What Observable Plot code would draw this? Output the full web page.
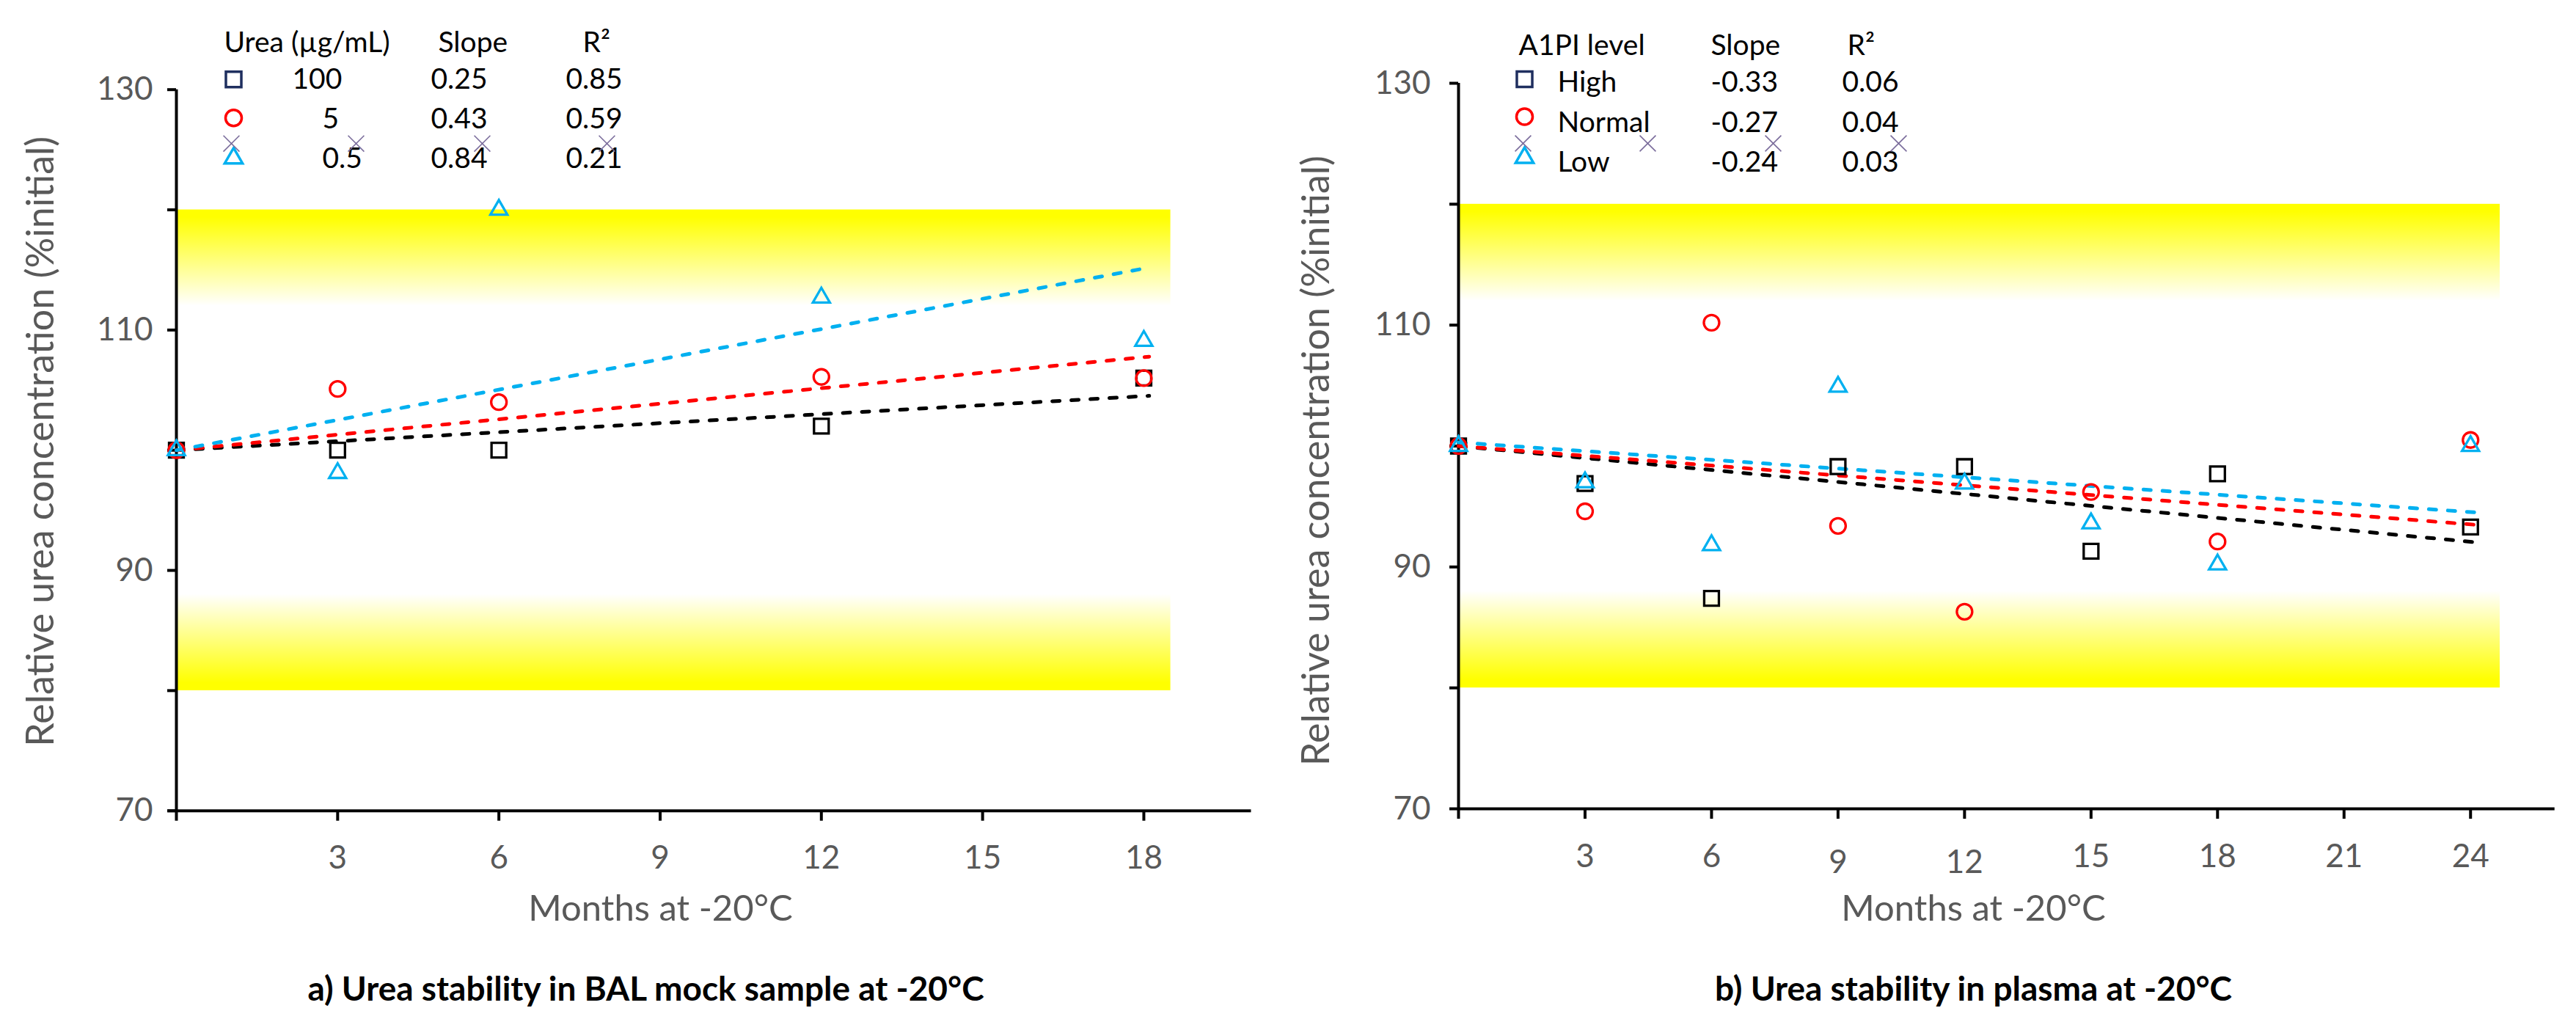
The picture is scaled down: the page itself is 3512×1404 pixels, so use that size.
<!DOCTYPE html>
<html>
<head>
<meta charset="utf-8">
<script src="https://cdn.jsdelivr.net/npm/d3@7"></script>
<script src="https://cdn.jsdelivr.net/npm/@observablehq/plot@0.6"></script>
<style>
  body { margin: 0; background: #fff; }
  #wrap { position: relative; width: 3512px; height: 1404px; }
  #chart-a, #chart-b { position: absolute; top: 0; }
  #chart-a { left: 0; }
  #chart-b { left: 1756px; }
</style>
</head>
<body>
<div id="wrap">
  <div id="chart-a"></div>
  <div id="chart-b"></div>
</div>
<script>
// Panel a: urea in BAL mock sample
const monthsA = [0, 3, 6, 12, 18];
const urea100 = [100, 100, 100, 102, 106];
const urea5 = [100, 105.1, 104.0, 106.1, 106.0];
const urea05 = [100, 98.1, 120.0, 112.7, 109.1];
const levelsA = ["100", "5", "0.5"];
const slopesA = [0.25, 0.43, 0.84];
const interceptsA = [100, 100, 100];
const r2A = [0.85, 0.59, 0.21];

// Panel b: urea in plasma by A1PI level
const monthsB = [0, 3, 6, 9, 12, 15, 18, 24];
const a1piHigh = [100, 96.9, 87.4, 98.3, 98.3, 91.3, 97.7, 93.3];
const a1piNormal = [100, 94.6, 110.2, 93.4, 86.3, 96.2, 92.1, 100.5];
const a1piLow = [100, 97.0, 91.8, 104.9, 96.9, 93.6, 90.2, 100.0];
const levelsB = ["High", "Normal", "Low"];
const slopesB = [-0.33, -0.27, -0.24];
const interceptsB = [100, 100, 100.3];
const r2B = [0.06, 0.04, 0.03];

// axes + acceptance bands (80-120 %, fading towards the middle)
const yTicks = [70, 80, 90, 100, 110, 120, 130];
const yLabels = [70, 90, 110, 130];
const xTicksA = [0, 3, 6, 9, 12, 15, 18];
const xLabelsA = [3, 6, 9, 12, 15, 18];
const xTicksB = [0, 3, 6, 9, 12, 15, 18, 21, 24];
const xLabelsB = [3, 6, 15, 18, 21, 24];
const xLabelsBLow = [9, 12]; // these two sit a little lower in the original
const bandHigh = [112, 120];
const bandLow = [80, 88];

const seriesColor = ["#000000", "#ff0000", "#00b0f0"];
const legendColor = ["#1f2f5f", "#ff0000", "#00b0f0"];
const seriesSymbol = ["square", "circle", "triangle"];
const seriesR = [11.3, 10.5, 8.6];
const FONT = "Lato, 'Open Sans', sans-serif";
const GREY = "#595959";

function gradientDefs(id) {
  return () => {
    const defs = d3.create("svg:defs");
    const top = defs.append("linearGradient").attr("id", id + "-top").attr("x1", 0).attr("y1", 0).attr("x2", 0).attr("y2", 1);
    top.append("stop").attr("offset", 0).attr("stop-color", "#ffff00");
    top.append("stop").attr("offset", 0.08).attr("stop-color", "#ffff00");
    top.append("stop").attr("offset", 1).attr("stop-color", "#ffffff");
    const bot = defs.append("linearGradient").attr("id", id + "-bot").attr("x1", 0).attr("y1", 0).attr("x2", 0).attr("y2", 1);
    bot.append("stop").attr("offset", 0).attr("stop-color", "#ffffff");
    bot.append("stop").attr("offset", 0.92).attr("stop-color", "#ffff00");
    bot.append("stop").attr("offset", 1).attr("stop-color", "#ffff00");
    return defs.node();
  };
}

function legendMarks(c) {
  const t = (txt, dx, dy) => Plot.text([txt], {
    frameAnchor: "top-left", dx, dy, text: d => d, textAnchor: "start", lineAnchor: "middle",
    fontSize: 39, fill: "#000"
  });
  const L = c.legend;
  return [
    t(c.legendTitle, L.head[0], L.headY),
    t("Slope", L.head[1], L.headY),
    t("R\u00b2", L.head[2], L.headY),
    ...c.levels.flatMap((lv, i) => [
      Plot.dot([lv], {
        frameAnchor: "top-left", dx: L.marker, dy: L.markerY[i],
        symbol: seriesSymbol[i], r: seriesR[i] * 1.05, stroke: legendColor[i], strokeWidth: 3.5, fill: "none"
      }),
      t(lv, L.label[i], L.rowY[i]),
      t(c.slopes[i].toFixed(2), L.slope, L.rowY[i]),
      t(c.r2[i].toFixed(2), L.r2, L.rowY[i])
    ]),
    // stray x markers left over in the legend box
    ...L.cross.map(dx => Plot.dot([0], {
      frameAnchor: "top-left", dx, dy: L.crossY, symbol: "times", r: 10,
      stroke: "#7b6d9c", strokeWidth: 1.6
    }))
  ];
}

function stabilityChart(c) {
  const rows = c.series.flatMap((vals, s) => vals.map((v, i) => ({month: c.months[i], value: v, s})));
  const fits = c.slopes.map((m, s) => [0, c.lineEnd].map(x => ({x, y: c.intercepts[s] + m * x})));
  const tickLabelAxes = c.xLabelGroups.map(([ticks, shift]) =>
    Plot.axisX({ticks, tickSize: 0, tickPadding: 48, dy: shift, fontSize: 44, fill: GREY, label: null}));
  return Plot.plot({
    width: 1756,
    height: 1404,
    marginLeft: c.m.left,
    marginRight: c.m.right,
    marginTop: c.m.top,
    marginBottom: c.m.bottom,
    style: {fontFamily: FONT, background: "transparent", overflow: "visible"},
    x: {domain: c.xDomain, label: null},
    y: {domain: [70, 130], label: null},
    marks: [
      gradientDefs(c.id),
      Plot.rect([bandHigh], {x1: () => 0, x2: () => c.bandEnd, y1: d => d[0], y2: d => d[1], fill: `url(#${c.id}-top)`}),
      Plot.rect([bandLow], {x1: () => 0, x2: () => c.bandEnd, y1: d => d[0], y2: d => d[1], fill: `url(#${c.id}-bot)`}),
      // axes
      Plot.axisY({ticks: yTicks, tickSize: 12, strokeWidth: 4, stroke: "#000", tickFormat: () => "", label: null}),
      Plot.axisY({ticks: yLabels, tickSize: 0, tickPadding: c.yPad, fontSize: 44, fill: GREY, label: null}),
      Plot.axisX({ticks: c.xTicks, tickSize: 14, strokeWidth: 4, stroke: "#000", tickFormat: () => "", label: null}),
      ...tickLabelAxes,
      Plot.ruleX([0], {y1: 70, y2: 130, strokeWidth: 4}),
      Plot.ruleY([70], {x1: c.xStart, x2: c.xDomain[1], strokeWidth: 4}),
      // trend lines
      ...fits.map((pts, s) => Plot.line(pts, {
        x: "x", y: "y", stroke: seriesColor[s], strokeWidth: 5,
        strokeDasharray: "10 16", strokeLinecap: "round"
      })),
      // measurements
      ...[0, 1, 2].map(s => Plot.dot(rows.filter(d => d.s === s), {
        x: "month", y: "value", symbol: seriesSymbol[s], r: seriesR[s],
        stroke: seriesColor[s], strokeWidth: 3.3, fill: "none"
      })),
      ...legendMarks(c),
      // axis titles and caption
      Plot.text([c.yTitle], {
        frameAnchor: "left", dx: c.yTitleDx, dy: c.yTitleDy, rotate: -90, text: d => d,
        textAnchor: "middle", lineAnchor: "middle", fontSize: 52, fill: GREY
      }),
      Plot.text([c.xTitle], {
        frameAnchor: "bottom-left", dx: c.xTitleDx, dy: c.xTitleDy, text: d => d,
        textAnchor: "middle", lineAnchor: "middle", fontSize: 49, fill: GREY
      }),
      Plot.text([c.caption], {
        frameAnchor: "bottom-left", dx: c.captionDx, dy: c.captionDy, text: d => d,
        textAnchor: "middle", lineAnchor: "middle", fontSize: 46, fontWeight: "bold", fill: "#000"
      })
    ]
  });
}

const plotA = stabilityChart({
  id: "pa",
  months: monthsA,
  series: [urea100, urea5, urea05],
  slopes: slopesA, intercepts: interceptsA, r2: r2A, levels: levelsA,
  legendTitle: "Urea (\u00b5g/mL)",
  xDomain: [0, 20], xTicks: xTicksA, xLabelGroups: [[xLabelsA, 0]], xStart: -0.16,
  bandEnd: 18.5, lineEnd: 18.1,
  m: {left: 240, right: 50.5, top: 121.7, bottom: 299.3},
  yPad: 32,
  legend: {
    head: [65, 357, 554], headY: -64,
    marker: 78, markerY: [-14, 38.5, 93.5],
    label: [158, 199, 199], slope: 347, r2: 531,
    rowY: [-14, 40.5, 94.5],
    cross: [75, 245, 417, 587], crossY: 73.5
  },
  yTitle: "Relative urea concentration (%initial)", yTitleDx: -184, yTitleDy: -12,
  xTitle: "Months at -20\u00b0C", xTitleDx: 660, xTitleDy: 134,
  caption: "a) Urea stability in BAL mock sample at -20\u00b0C", captionDx: 640, captionDy: 244
});

const plotB = stabilityChart({
  id: "pb",
  months: monthsB,
  series: [a1piHigh, a1piNormal, a1piLow],
  slopes: slopesB, intercepts: interceptsB, r2: r2B, levels: levelsB,
  legendTitle: "A1PI level",
  xDomain: [0, 26], xTicks: xTicksB, xLabelGroups: [[xLabelsB, 0], [xLabelsBLow, 8]], xStart: 0,
  bandEnd: 24.7, lineEnd: 24.1,
  m: {left: 232, right: 29.3, top: 113, bottom: 302},
  yPad: 38,
  legend: {
    head: [82, 344, 530], headY: -51,
    marker: 90, markerY: [-5.5, 45.5, 101.5],
    label: [135, 135, 135], slope: 344, r2: 523,
    rowY: [-1, 54, 108],
    cross: [88, 258, 429, 600], crossY: 82
  },
  yTitle: "Relative urea concentration (%initial)", yTitleDx: -193, yTitleDy: 20,
  xTitle: "Months at -20\u00b0C", xTitleDx: 702, xTitleDy: 137,
  caption: "b) Urea stability in plasma at -20\u00b0C", captionDx: 702, captionDy: 247
});

document.getElementById("chart-a").appendChild(plotA);
document.getElementById("chart-b").appendChild(plotB);
</script>
</body>
</html>
